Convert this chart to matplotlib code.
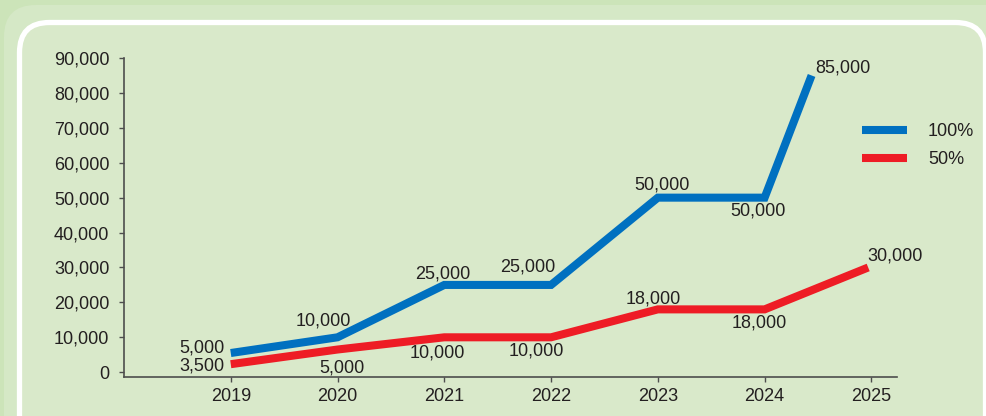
import matplotlib.pyplot as plt
from matplotlib.patches import FancyBboxPatch

# data
years = [2019, 2020, 2021, 2022, 2023, 2024, 2025]
blue_x = [2019, 2020, 2021, 2022, 2023, 2024, 2024.44]
blue_vals = [5500, 10000, 25000, 25000, 50000, 50000, 85000]
blue_labels = ["5,000", "10,000", "25,000", "25,000", "50,000", "50,000", "85,000"]
red_x = [2019, 2020, 2021, 2022, 2023, 2024, 2024.97]
red_vals = [2300, 6500, 10000, 10000, 18000, 18000, 30000]
red_labels = ["3,500", "5,000", "10,000", "10,000", "18,000", "18,000", "30,000"]
y_ticks = [0, 10000, 20000, 30000, 40000, 50000, 60000, 70000, 80000, 90000]

# label offsets in pixels (dx, dy)
blue_off = [(-29, 5), (-14, 16), (-2, 11), (-23, 18), (4, 13), (-7, -13), (31, 7)]
red_off = [(-29, -2), (4, -18), (-7, -16), (-15, -14), (-5, 10), (-5, -14), (27, 11)]

BLUE = "#0070c0"
RED = "#ee1c25"
TXT = "#231f20"
FS = 13

plt.rcParams["font.family"] = ["Liberation Sans", "DejaVu Sans"]

fig = plt.figure(figsize=(9.87, 4.16), dpi=100)
fig.patch.set_facecolor("#cce4b9")

# background panels in pixel coords
bg = fig.add_axes([0, 0, 1, 1], zorder=0)
bg.set_xlim(0, 987)
bg.set_ylim(416, 0)
bg.axis("off")
bg.add_patch(FancyBboxPatch((4, 5), 1050, 500, boxstyle="round,pad=0,rounding_size=32",
                            fc="#d5e8c6", ec="none"))
bg.add_patch(FancyBboxPatch((19.5, 22.5), 966, 480, boxstyle="round,pad=0,rounding_size=30",
                            fc="#d9e9ca", ec="white", lw=3.8))

ax = fig.add_axes([124 / 987, 39 / 416, 773 / 987, 319 / 416], zorder=1)
ax.patch.set_visible(False)

ax.plot(blue_x, blue_vals, color=BLUE, lw=5.8, solid_joinstyle="miter",
        solid_capstyle="butt", label="100%", zorder=3)
ax.plot(red_x, red_vals, color=RED, lw=5.8, solid_joinstyle="miter",
        solid_capstyle="butt", label="50%", zorder=3)

for x, v, t, (dx, dy) in zip(blue_x, blue_vals, blue_labels, blue_off):
    ax.annotate(t, (x, v), xytext=(dx, dy), textcoords="offset pixels",
                ha="center", va="center", fontsize=FS, color=TXT)
for x, v, t, (dx, dy) in zip(red_x, red_vals, red_labels, red_off):
    ax.annotate(t, (x, v), xytext=(dx, dy), textcoords="offset pixels",
                ha="center", va="center", fontsize=FS, color=TXT)

ax.set_xlim(2018.0, 2025.24)
ax.set_ylim(-1370, 90000)
ax.set_xticks(years)
ax.set_xticklabels([str(y) for y in years])
ax.set_yticks(y_ticks)
ax.set_yticklabels([f"{v:,}" for v in y_ticks])

for s in ["top", "right"]:
    ax.spines[s].set_visible(False)
for s in ["left", "bottom"]:
    ax.spines[s].set_color("#4d4d4d")
    ax.spines[s].set_linewidth(1.2)
ax.tick_params(axis="both", colors="#4d4d4d", labelcolor=TXT, labelsize=FS,
               length=3.6, width=1)
ax.tick_params(axis="y", pad=7)
ax.tick_params(axis="x", pad=4)

leg = ax.legend(loc="upper left", bbox_to_anchor=(862 / 987, (416 - 123) / 416),
                bbox_transform=fig.transFigure, frameon=False, fontsize=FS,
                handlelength=2.5, handletextpad=1.15, labelspacing=0.6,
                borderpad=0, borderaxespad=0)
for t in leg.get_texts():
    t.set_color(TXT)

fig.savefig("out.png", dpi=100, facecolor=fig.get_facecolor())
